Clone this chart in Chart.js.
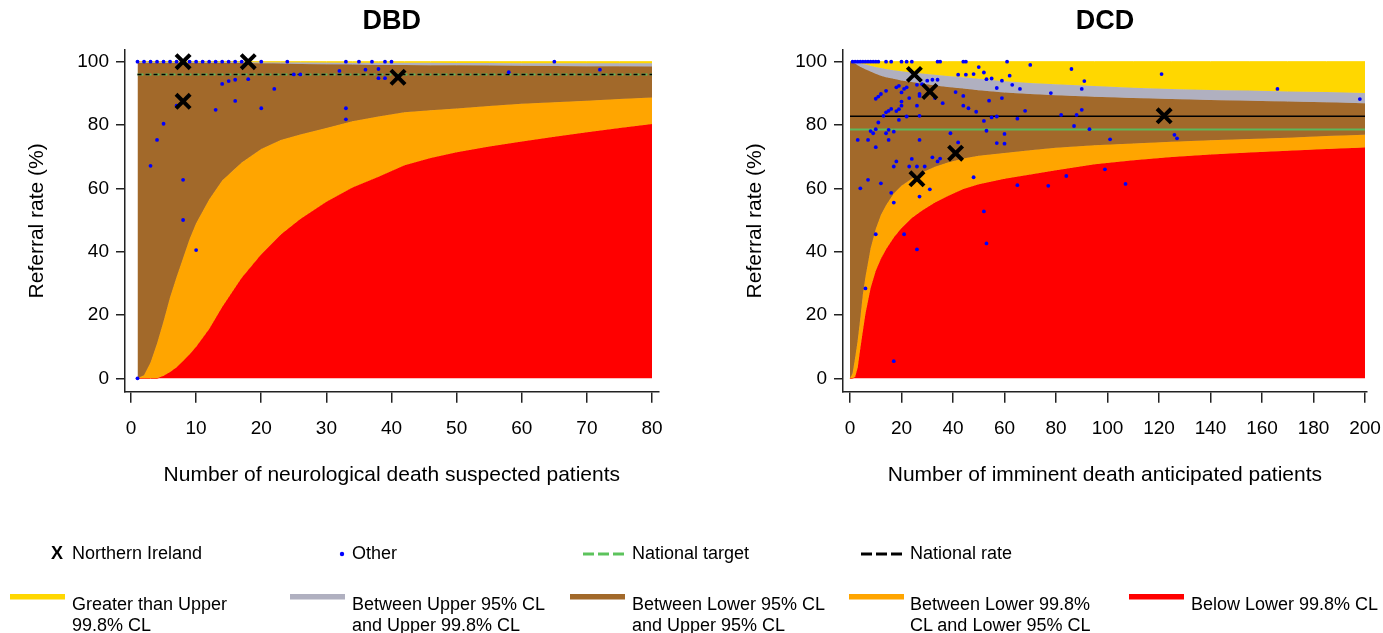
<!DOCTYPE html>
<html>
<head>
<meta charset="utf-8">
<title>DBD / DCD referral funnel plots</title>
<script src="https://cdn.jsdelivr.net/npm/chart.js@4.4.1/dist/chart.umd.min.js"></script>
<style>
  body { margin: 0; background: #fff; font-family: "Liberation Sans", Arial, sans-serif; }
  #page { position: relative; width: 1383px; height: 633px; overflow: hidden; background: #fff; }
  canvas { position: absolute; top: 0; }
  #legendMarks { position: absolute; left: 0; top: 0; }
  .lg { position: absolute; font-size: 18px; line-height: 20.5px; color: #000; white-space: nowrap; }
</style>
</head>
<body>
<div id="page">
  <canvas id="dbdChart" width="690" height="500" style="left:0px"></canvas>
  <canvas id="dcdChart" width="665" height="500" style="left:718px"></canvas>

  <svg id="legendMarks" width="1383" height="633">
    <circle cx="342" cy="554" r="2.2" fill="#0000ff"/>
    <g stroke="#5cc35c" stroke-width="3">
      <line x1="583" y1="554" x2="594" y2="554"/>
      <line x1="598" y1="554" x2="609" y2="554"/>
      <line x1="613" y1="554" x2="624" y2="554"/>
    </g>
    <g stroke="#000" stroke-width="3">
      <line x1="861" y1="554" x2="872" y2="554"/>
      <line x1="876" y1="554" x2="887" y2="554"/>
      <line x1="891" y1="554" x2="902" y2="554"/>
    </g>
    <rect x="10" y="594" width="55" height="5.5" fill="#ffd700"/>
    <rect x="290" y="594" width="55" height="5.5" fill="#b0b0c0"/>
    <rect x="570" y="594" width="55" height="5.5" fill="#a2692a"/>
    <rect x="849" y="594" width="55" height="5.5" fill="#ffa500"/>
    <rect x="1129" y="594" width="55" height="5.5" fill="#ff0000"/>
  </svg>

  <div class="lg" style="left:51px;top:543px;font-weight:bold">X</div>
  <div class="lg" style="left:72px;top:543px">Northern Ireland</div>
  <div class="lg" style="left:352px;top:543px">Other</div>
  <div class="lg" style="left:632px;top:543px">National target</div>
  <div class="lg" style="left:910px;top:543px">National rate</div>

  <div class="lg" style="left:72px;top:594px">Greater than Upper<br>99.8% CL</div>
  <div class="lg" style="left:352px;top:594px">Between Upper 95% CL<br>and Upper 99.8% CL</div>
  <div class="lg" style="left:632px;top:594px">Between Lower 95% CL<br>and Upper 95% CL</div>
  <div class="lg" style="left:910px;top:594px">Between Lower 99.8%<br>CL and Lower 95% CL</div>
  <div class="lg" style="left:1191px;top:594px">Below Lower 99.8% CL</div>
</div>

<script>
// ---- DBD funnel limits ----
const dbdN      = [1, 2, 3, 4, 5, 6, 7, 8, 9, 10, 12, 14, 17, 20, 23, 26, 30, 34, 38, 42, 46, 50, 55, 60, 65, 70, 75, 80];
const dbdUpper998 = [100, 100, 100, 100, 100, 100, 100, 100, 100, 100, 100, 100, 100, 99.85, 99.8, 99.8, 99.75, 99.7, 99.7, 99.65, 99.65, 99.6, 99.6, 99.55, 99.55, 99.5, 99.5, 99.5];
const dbdUpper95  = [99.6, 99.6, 99.6, 99.6, 99.6, 99.6, 99.6, 99.6, 99.6, 99.6, 99.6, 99.6, 99.6, 99.5, 99.4, 99.3, 99.2, 99.1, 99, 98.95, 98.9, 98.85, 98.8, 98.7, 98.65, 98.6, 98.55, 98.5];
const dbdLower95  = [0, 1, 5, 11, 18, 25.6, 32, 38, 44, 49, 56.5, 62.5, 68.2, 72.4, 75.3, 77, 79.1, 81.2, 82.7, 84, 84.7, 85.2, 86, 86.7, 87.2, 87.7, 88.2, 88.7];
const dbdLower998 = [0, 0, 0, 0, 0.8, 2, 3.5, 5.5, 7.6, 10, 15.6, 22.5, 31.8, 39.2, 45.4, 50.3, 55.8, 60.3, 63.7, 67.3, 69.6, 71.4, 73.2, 74.8, 76.3, 77.7, 79.1, 80.3];
const dbdTarget = 96.0;
const dbdRate = 96.0;

// DBD hospitals: [patients, referral rate %]
const dbdNorthernIreland = [[8, 100], [8, 87.5], [18, 100], [41, 95.1]];
const dbdOther = [
  [1, 100], [2, 100], [3, 100], [4, 100], [5, 100], [6, 100], [7, 100], [9, 100], [10, 100], [11, 100],
  [12, 100], [13, 100], [14, 100], [15, 100], [16, 100], [17, 100], [20, 100], [24, 100], [33, 100],
  [35, 100], [37, 100], [39, 100], [40, 100], [65, 100],
  [1, 0], [3, 67.1], [4, 75.3], [5, 80.4], [7, 86.1], [8, 62.7], [8, 50], [10, 40.5], [13, 84.8],
  [14, 93], [15, 93.9], [16, 94.3], [16, 87.6], [18, 94.5], [20, 85.3], [22, 91.4], [25, 96], [26, 96],
  [32, 97.1], [33, 85.3], [33, 81.8], [36, 97.5], [38, 97.7], [38, 94.8], [39, 94.8], [58, 96.7], [72, 97.5]
];

// ---- DCD funnel limits ----
const dcdN      = [0, 1, 2, 3, 4, 5, 6, 8, 10, 12, 14, 17, 20, 24, 28, 33, 38, 44, 50, 60, 70, 80, 95, 110, 125, 140, 155, 170, 185, 200];
const dcdUpper998 = [100, 100, 100, 99.8, 99.5, 99.3, 99.1, 98.7, 98.3, 98, 97.7, 97.3, 97, 96.6, 96.3, 95.9, 95.5, 95.1, 94.6, 93.8, 93.3, 92.9, 92.3, 91.8, 91.4, 91.1, 90.9, 90.6, 90.4, 90.1];
const dcdUpper95  = [100, 99.8, 99.4, 98.9, 98.4, 98, 97.6, 96.9, 96.2, 95.6, 95.1, 94.6, 94.1, 93.6, 93.1, 92.5, 92, 91.5, 91, 90.3, 89.8, 89.4, 88.9, 88.5, 88.2, 87.9, 87.7, 87.4, 87.2, 86.9];
const dcdLower95  = [0, 1.5, 6.5, 12, 19, 26.5, 32, 41, 47.2, 51.6, 54.7, 58.4, 60.8, 63, 65, 66.8, 68.2, 69.4, 70.3, 71.2, 72, 72.8, 73.6, 74.2, 74.7, 75.2, 75.6, 76, 76.5, 76.9];
const dcdLower998 = [0, 0, 0.5, 3.5, 9.5, 15, 20.5, 28.5, 34, 37.8, 40.8, 44.5, 47.5, 50.6, 53, 55.5, 57.6, 59.8, 61.3, 63, 64.4, 65.7, 67.6, 68.9, 69.9, 70.7, 71.3, 71.9, 72.4, 72.9];
const dcdTarget = 78.6;
const dcdRate = 82.8;

const dcdNorthernIreland = [[25, 96], [31, 90.6], [26, 63], [41, 71.1], [122, 82.9]];
const dcdOther = [
  [1, 100], [2, 100], [3, 100], [4, 100], [5, 100], [6, 100], [7, 100], [8, 100], [9, 100], [10, 100],
  [11, 100], [14, 100], [16, 100], [20, 100], [22, 100], [24, 100], [34, 100], [35, 100], [44, 100],
  [45, 100], [61, 100],
  [30, 94], [32, 94.3], [34, 94.3], [42, 95.9], [45, 95.9], [48, 96.1], [50, 98.3], [52, 96.6], [53, 94.5],
  [55, 94.7], [57, 91.7], [19, 92.4], [18, 91.9], [14, 90.8], [12, 89.8], [11, 89], [10, 88.3],
  [22, 91.9], [23, 88.5], [21, 91.4], [20, 90.3], [20, 87.4], [26, 92.7], [28, 92.9], [27, 89.2], [27, 89.8],
  [33, 88.5], [26, 86.1], [27, 82.9], [36, 86.9], [41, 90.4], [44, 86.1], [46, 85.3], [49, 84.2], [54, 87.7],
  [55, 82.4], [57, 82.7], [16, 85.1], [15, 84.5], [14, 84], [13, 82.9], [11, 80.8], [10, 78.7], [9, 77.4],
  [8, 78.1], [15, 78.5], [14, 77.4], [17, 77.9], [22, 82.7], [20, 86.1], [19, 85], [18, 84.4], [19, 81.6],
  [3, 75.3], [7, 75.3], [15, 75.3], [27, 75.3], [10, 73], [32, 69.8], [34, 68.5], [35, 69.4], [24, 69.3],
  [39, 77.4], [42, 74.5], [53, 78.2], [18, 68.5], [17, 66.9], [23, 66.9], [26, 66.9], [29, 66.9],
  [7, 62.7], [4, 60], [12, 61.6], [16, 58.6], [17, 55.5], [27, 57.4], [31, 59.7], [48, 63.5],
  [10, 45.5], [21, 45.5], [26, 40.7], [6, 28.4], [17, 5.4], [52, 52.7], [53, 42.6], [65, 61],
  [68, 84.5], [65, 82], [82, 83.2], [88, 83.2], [90, 84.8], [87, 79.7], [93, 78.7], [60, 77.2], [60, 74.1],
  [101, 75.5], [126, 76.9], [127, 75.8], [77, 60.8], [84, 63.9], [99, 66], [107, 61.4],
  [70, 99], [86, 97.7], [62, 95.6], [59, 94], [63, 92.7], [66, 91.4], [91, 93.9], [90, 91.4], [78, 90.1],
  [59, 88.5], [121, 96.1], [166, 91.4], [198, 88.2], [57, 74.3], [52, 81.3], [44, 89.2]
];

const yTicks = [0, 20, 40, 60, 80, 100];
const dbdXTicks = [0, 10, 20, 30, 40, 50, 60, 70, 80];
const dcdXTicks = [0, 20, 40, 60, 80, 100, 120, 140, 160, 180, 200];

const FONT = '"Liberation Sans", Arial, sans-serif';
const YELLOW = '#ffd700', GREY = '#b0b0c0', BROWN = '#a2692a', ORANGE = '#ffa500', RED = '#ff0000';
const GREEN = '#5cb85c';

function toPoints(pairs) {
  return pairs.map(p => ({ x: p[0], y: p[1] }));
}

// Stacked funnel bands: each boundary is filled down to the next one
function bandDatasets(n, upper998, upper95, lower95, lower998) {
  const pts = arr => n.map((x, i) => ({ x: x, y: arr[i] }));
  const bands = [
    { data: n.map(x => ({ x: x, y: 100 })), color: YELLOW, fill: '+1' },
    { data: pts(upper998), color: GREY, fill: '+1' },
    { data: pts(upper95), color: BROWN, fill: '+1' },
    { data: pts(lower95), color: ORANGE, fill: '+1' },
    { data: pts(lower998), color: RED, fill: 'origin' }
  ];
  return bands.map(b => ({
    type: 'line',
    data: b.data,
    backgroundColor: b.color,
    borderColor: b.color,
    borderWidth: 1,
    pointRadius: 0,
    tension: 0,
    fill: b.fill
  }));
}

function refLine(x0, x1, y, color, dash, width) {
  return {
    type: 'line',
    data: [{ x: x0, y: y }, { x: x1, y: y }],
    borderColor: color,
    borderWidth: width,
    borderDash: dash,
    pointRadius: 0,
    fill: false
  };
}

function makeChart(id, cfg) {
  const datasets = [
    {
      data: toPoints(cfg.ni),
      pointStyle: 'crossRot',
      pointRadius: 10,
      borderColor: '#000',
      borderWidth: 4,
      backgroundColor: '#000'
    },
    {
      data: toPoints(cfg.other),
      pointRadius: 1.9,
      pointBorderWidth: 0,
      backgroundColor: '#0000ff',
      borderColor: '#0000ff'
    },
    refLine(cfg.lineFrom, cfg.lineTo, cfg.rate, '#000', cfg.rateDash, 1.5),
    refLine(cfg.lineFrom, cfg.lineTo, cfg.target, GREEN, cfg.targetDash, 2)
  ].concat(bandDatasets(cfg.n, cfg.u998, cfg.u95, cfg.l95, cfg.l998));

  return new Chart(document.getElementById(id), {
    type: 'scatter',
    data: { datasets: datasets },
    options: {
      animation: false,
      responsive: false,
      events: [],
      layout: { padding: { left: 0, right: cfg.padRight, top: 0, bottom: 0 } },
      plugins: {
        legend: { display: false },
        tooltip: { enabled: false },
        title: {
          display: true,
          text: cfg.title,
          fullSize: false,
          color: '#000',
          font: { family: FONT, size: 27, weight: 'bold' },
          padding: { top: 5, bottom: 12.6 }
        }
      },
      scales: {
        x: {
          type: 'linear',
          min: cfg.xMin,
          max: cfg.xMax,
          afterFit: s => { s.height = 108.3; s.paddingLeft = 0; s.paddingRight = 0; },
          afterBuildTicks: s => { s.ticks = cfg.xTicks.map(v => ({ value: v })); },
          ticks: { color: '#000', font: { family: FONT, size: 19 }, padding: 15, maxRotation: 0, autoSkip: false },
          grid: { display: true, drawOnChartArea: false, drawTicks: true, tickLength: 11, color: '#222', lineWidth: 1.5 },
          border: { display: true, color: '#222', width: 1.5 },
          title: {
            display: true,
            text: cfg.xTitle,
            color: '#000',
            font: { family: FONT, size: 21 },
            padding: { top: 0, bottom: 12.4 }
          }
        },
        y: {
          type: 'linear',
          min: -4.23,
          max: 103.7,
          afterFit: s => { s.width = 125; s.paddingTop = 0; s.paddingBottom = 0; },
          afterBuildTicks: s => { s.ticks = yTicks.map(v => ({ value: v })); },
          ticks: { color: '#000', font: { family: FONT, size: 19 }, padding: 7 },
          grid: { display: true, drawOnChartArea: false, drawTicks: true, tickLength: 9, color: '#222', lineWidth: 1.5 },
          border: { display: true, color: '#222', width: 1.5 },
          title: {
            display: true,
            text: 'Referral rate (%)',
            color: '#000',
            font: { family: FONT, size: 21 },
            padding: { top: 24.4, bottom: 0 }
          }
        }
      }
    }
  });
}

makeChart('dbdChart', {
  title: 'DBD',
  xTitle: 'Number of neurological death suspected patients',
  n: dbdN, u998: dbdUpper998, u95: dbdUpper95, l95: dbdLower95, l998: dbdLower998,
  ni: dbdNorthernIreland, other: dbdOther,
  rate: dbdRate, target: dbdTarget,
  rateDash: [4, 4], targetDash: [6, 2],
  lineFrom: 1, lineTo: 80,
  xMin: -0.92, xMax: 81.01, xTicks: dbdXTicks,
  padRight: 31.4
});

makeChart('dcdChart', {
  title: 'DCD',
  xTitle: 'Number of imminent death anticipated patients',
  n: dcdN, u998: dcdUpper998, u95: dcdUpper95, l95: dcdLower95, l998: dcdLower998,
  ni: dcdNorthernIreland, other: dcdOther,
  rate: dcdRate, target: dcdTarget,
  rateDash: [], targetDash: [],
  lineFrom: 0, lineTo: 200,
  xMin: -2.72, xMax: 200.7, xTicks: dcdXTicks,
  padRight: 16.2
});
</script>
</body>
</html>
